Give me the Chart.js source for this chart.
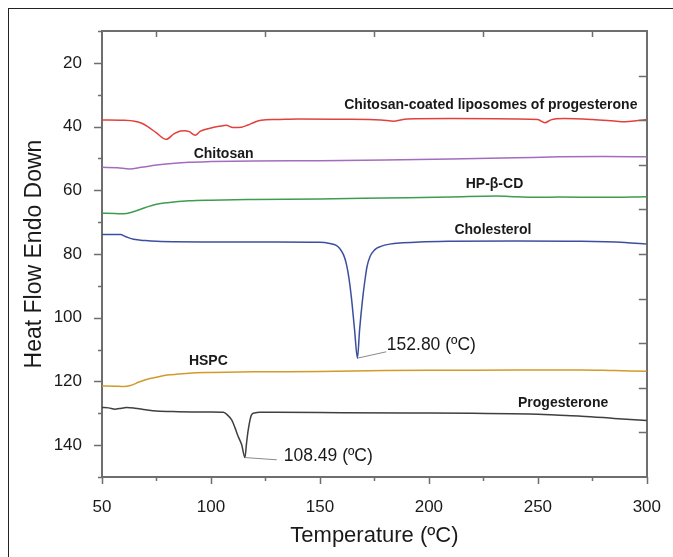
<!DOCTYPE html>
<html>
<head>
<meta charset="utf-8">
<title>DSC thermograms</title>
<script src="https://cdn.jsdelivr.net/npm/chart.js@4.4.1/dist/chart.umd.min.js"></script>
<style>
  html, body { margin: 0; padding: 0; background: #fff; }
  #wrap { width: 673px; height: 557px; position: relative; }
</style>
</head>
<body>
<div id="wrap"><canvas id="dsc" width="673" height="557"></canvas></div>
<script>
// ─── DATA (temperature ºC / heat flow) ───
const xTickLabels = [50, 100, 150, 200, 250, 300];
const yTickLabels = [20, 40, 60, 80, 100, 120, 140];

const liposomeTemp = [50, 60, 65, 68, 71, 75, 79.4, 83, 86, 88, 90, 92.8, 95, 99.6, 104, 107, 110, 114, 117, 119.4, 123, 130, 140, 160, 178, 184, 190, 210, 240, 250, 253.2, 256, 262, 275, 284, 290, 296, 300];
const liposomeFlow = [37.9, 38.0, 38.3, 38.9, 40.0, 42.0, 44.0, 42.3, 41.4, 41.3, 41.6, 42.7, 41.5, 40.5, 39.9, 39.6, 40.3, 40.2, 39.5, 38.8, 38.0, 37.8, 37.6, 37.7, 37.9, 38.3, 37.6, 37.5, 37.6, 37.8, 38.8, 37.9, 37.5, 37.8, 38.2, 38.5, 38.1, 37.8];

const chitosanTemp = [50, 57, 62.6, 68, 75, 82, 90, 100, 120, 150, 180, 210, 240, 260, 280, 300];
const chitosanFlow = [52.8, 52.9, 53.3, 52.8, 52.1, 51.6, 51.2, 51.0, 50.8, 50.7, 50.5, 50.2, 49.8, 49.5, 49.4, 49.5];

const hpbcdTemp = [50, 56, 60, 64, 70, 75, 80, 90, 100, 120, 150, 180, 210, 231, 240, 250, 260, 280, 300];
const hpbcdFlow = [67.2, 67.3, 67.4, 66.8, 65.4, 64.4, 63.9, 63.3, 63.1, 62.9, 62.7, 62.4, 62.1, 61.8, 62.0, 62.2, 62.1, 62.2, 62.0];

const cholTemp = [50, 56, 58.4, 61, 64.5, 70, 75, 100, 130, 150, 154.5, 157.5, 159.1, 160.8, 162.1, 163.3, 164.4, 165.9, 167.2, 168.2, 169.7, 170.7, 171.6, 173, 175.1, 178, 182, 188, 195.7, 210, 240, 270, 290, 300];
const cholFlow = [73.9, 73.9, 73.9, 74.6, 75.4, 75.8, 76.0, 76.2, 76.2, 76.3, 76.7, 77.3, 78.3, 80.2, 83.0, 87.5, 93.4, 103.8, 112.7, 103.8, 93.4, 88.0, 84.0, 80.8, 78.7, 77.6, 76.9, 76.5, 76.2, 76.0, 75.9, 76.0, 76.4, 76.9];

const hspcTemp = [50, 56, 60, 63, 67, 72, 76, 80, 85, 90, 100, 120, 150, 180, 210, 240, 270, 285, 300];
const hspcFlow = [121.4, 121.5, 121.6, 121.3, 120.2, 119.1, 118.5, 118.0, 117.7, 117.4, 117.2, 117.0, 116.9, 116.6, 116.5, 116.4, 116.4, 116.6, 116.8];

const progTemp = [50, 53, 56, 58, 61.4, 65, 70, 75, 85, 100, 105.7, 107.5, 109.5, 111, 112.5, 114.1, 115.6, 116.3, 117.1, 118.6, 120, 122.4, 130, 160, 190, 220, 246, 260, 270, 285, 300];
const progFlow = [128.2, 128.3, 128.7, 128.5, 128.2, 128.4, 128.9, 129.3, 129.5, 129.6, 129.7, 130.5, 132.1, 134.5, 137.3, 139.9, 143.9, 139.5, 135.2, 130.5, 129.9, 129.7, 129.7, 129.8, 129.9, 130.0, 130.2, 130.6, 130.9, 131.6, 132.3];

// curve names, placed in data units
const curveLabels = [
  { text: 'Chitosan-coated liposomes of progesterone', x: 228.4, y: 33.2 },
  { text: 'Chitosan', x: 105.8, y: 48.7 },
  { text: 'HP-\u03b2-CD', x: 230.1, y: 58.0 },
  { text: 'Cholesterol', x: 229.4, y: 72.5 },
  { text: 'HSPC', x: 98.8, y: 113.6 },
  { text: 'Progesterone', x: 261.6, y: 126.7 },
];
// peak call-outs: peak point -> end of leader -> text
const peakNotes = [
  { text: '152.80 (\u00baC)', px: 167.2, py: 112.7, lx: 180.4, ly: 110.7, tx: 180.7, ty: 108.6 },
  { text: '108.49 (\u00baC)', px: 115.6, py: 143.9, lx: 130.2, ly: 144.6, tx: 133.4, ty: 143.6 },
];

const pairs = (xs, ys) => xs.map((x, i) => ({ x, y: ys[i] }));
const AXIS = '#6e6e6e';
const FONT = "'Liberation Sans', Arial, sans-serif";

function series(label, xs, ys, color) {
  return {
    label, data: pairs(xs, ys), borderColor: color, backgroundColor: color,
    borderWidth: 1.5, pointRadius: 0, fill: false, cubicInterpolationMode: 'monotone',
  };
}

// tick marks (outward on left/bottom, inward on top/right) + labels + frame
const decor = {
  id: 'decor',
  afterDraw(chart) {
    const { ctx, chartArea: a, scales } = chart;
    const sx = scales.x, sy = scales.y, sy2 = scales.y2;
    ctx.save();
    ctx.strokeStyle = AXIS; ctx.lineWidth = 1.5;
    ctx.beginPath();
    for (let v = 10; v <= 150; v += 10) {
      const p = Math.round(sy.getPixelForValue(v)) + 0.5;
      const len = v % 20 === 0 ? 8 : 4;
      ctx.moveTo(a.left, p); ctx.lineTo(a.left - len, p);
    }
    for (let v = 50; v <= 300; v += 25) {
      const p = Math.round(sx.getPixelForValue(v)) + 0.5;
      const len = v % 50 === 0 ? 7 : 4;
      ctx.moveTo(p, a.bottom); ctx.lineTo(p, a.bottom + len);
    }
    for (let v = 75; v <= 275; v += 50) {
      const p = Math.round(sx.getPixelForValue(v)) + 0.5;
      ctx.moveTo(p, a.top); ctx.lineTo(p, a.top + 6);
    }
    for (let i = 1; i < 10; i++) {
      const p = Math.round(sy2.getPixelForValue(i)) + 0.5;
      ctx.moveTo(a.right, p); ctx.lineTo(a.right - 8, p);
    }
    ctx.stroke();

    ctx.fillStyle = '#1a1a1a';
    ctx.font = 'bold 14px ' + FONT;
    ctx.textAlign = 'center'; ctx.textBaseline = 'middle';
    curveLabels.forEach((l) => ctx.fillText(l.text, sx.getPixelForValue(l.x), sy.getPixelForValue(l.y)));

    ctx.font = '17.5px ' + FONT;
    ctx.textAlign = 'left';
    ctx.strokeStyle = '#8a8a8a'; ctx.lineWidth = 1;
    peakNotes.forEach((n) => {
      ctx.beginPath();
      ctx.moveTo(sx.getPixelForValue(n.px), sy.getPixelForValue(n.py));
      ctx.lineTo(sx.getPixelForValue(n.lx), sy.getPixelForValue(n.ly));
      ctx.stroke();
      ctx.fillText(n.text, sx.getPixelForValue(n.tx), sy.getPixelForValue(n.ty));
    });

    // outer figure frame (only top/left edges fall inside the picture)
    ctx.strokeStyle = '#222'; ctx.lineWidth = 1;
    ctx.strokeRect(8.5, 8.5, 800, 800);
    ctx.restore();
  },
};

const bg = {
  id: 'bg',
  beforeDraw(chart) {
    const { ctx, width, height } = chart;
    ctx.save(); ctx.fillStyle = '#fff'; ctx.fillRect(0, 0, width, height); ctx.restore();
  },
};

Chart.defaults.font.family = FONT;
Chart.defaults.color = '#1a1a1a';

new Chart(document.getElementById('dsc'), {
  type: 'line',
  data: {
    datasets: [
      series('Chitosan-coated liposomes of progesterone', liposomeTemp, liposomeFlow, '#e2413b'),
      series('Chitosan', chitosanTemp, chitosanFlow, '#a46cbd'),
      series('HP-\u03b2-CD', hpbcdTemp, hpbcdFlow, '#3d9d4f'),
      series('Cholesterol', cholTemp, cholFlow, '#3c4f9e'),
      series('HSPC', hspcTemp, hspcFlow, '#d29a2c'),
      series('Progesterone', progTemp, progFlow, '#3f3f3f'),
    ],
  },
  options: {
    responsive: false,
    animation: false,
    devicePixelRatio: 1,
    layout: { padding: 0 },
    plugins: { legend: { display: false }, tooltip: { enabled: false } },
    scales: {
      x: {
        type: 'linear', position: 'bottom', min: 50, max: 300,
        grid: { display: false }, border: { color: AXIS, width: 2 },
        ticks: { font: { size: 17 }, padding: 12, maxRotation: 0 },
        afterBuildTicks: (s) => { s.ticks = xTickLabels.map((v) => ({ value: v })); },
        afterFit: (s) => { s.height = 80; },
        title: { display: true, text: 'Temperature (\u00baC)', font: { size: 22 }, padding: { top: 0, bottom: 8 } },
      },
      x2: {
        type: 'linear', position: 'top', min: 50, max: 300,
        grid: { display: false }, border: { color: AXIS, width: 2 }, ticks: { display: false },
        afterFit: (s) => { s.height = 31; },
      },
      y: {
        type: 'linear', position: 'left', reverse: true, min: 10, max: 150,
        grid: { display: false }, border: { color: AXIS, width: 2 },
        ticks: { font: { size: 17 }, padding: 12 },
        afterBuildTicks: (s) => { s.ticks = yTickLabels.map((v) => ({ value: v })); },
        afterFit: (s) => { s.width = 102; },
        title: { display: true, text: 'Heat Flow Endo Down', font: { size: 23 }, padding: { top: 21, bottom: 0 } },
      },
      y2: {
        type: 'linear', position: 'right', min: 0, max: 10,
        grid: { display: false }, border: { color: AXIS, width: 2 }, ticks: { display: false },
        afterFit: (s) => { s.width = 25; },
      },
    },
  },
  plugins: [bg, decor],
});
</script>
</body>
</html>
